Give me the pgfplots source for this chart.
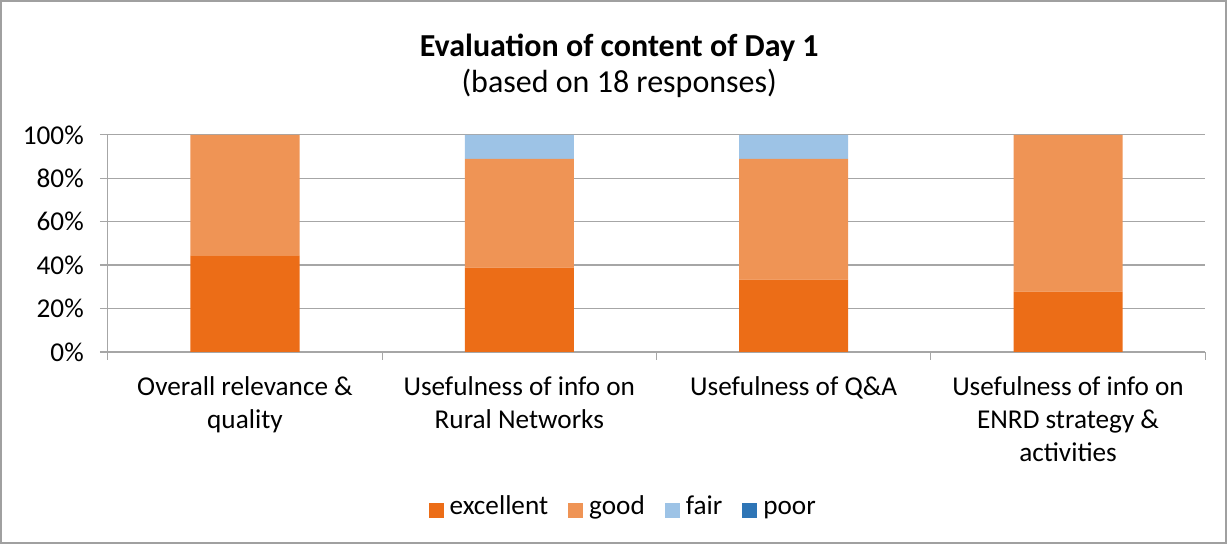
\documentclass[border=0pt]{standalone}
\usepackage{fontspec}
\setmainfont{Carlito}
\usepackage{pgfplots}
\pgfplotsset{compat=1.18}
\definecolor{cexc}{HTML}{EC6D17}
\definecolor{cgood}{HTML}{EF9455}
\definecolor{cfair}{HTML}{9DC3E6}
\definecolor{cpoor}{HTML}{2E75B6}
\definecolor{gridgray}{HTML}{A6A6A6}
\definecolor{framegray}{HTML}{A0A0A0}
\begin{document}
\begin{tikzpicture}
\begin{axis}[
  scale only axis, width=548.5pt, height=108.5pt,
  ybar stacked, bar width=54.5pt,
  xmin=-0.5, xmax=3.5, ymin=0, ymax=100,
  clip=false,
  axis lines*=left,
  axis line style={gridgray, line width=0.6pt},
  tick align=outside,
  major tick length=4pt, minor tick length=4pt,
  tick style={gridgray, line width=0.6pt},
  xtick={0,1,2,3},
  xticklabels={{Overall relevance \&\\quality},{Usefulness of info on\\Rural Networks},{Usefulness of Q\&A},{Usefulness of info on\\ENRD strategy \&\\activities}},
  major x tick style={draw=none},
  minor xtick={-0.5,0.5,1.5,2.5,3.5},
  ytick={0,20,...,100},
  yticklabel={\pgfmathprintnumber{\tick}\%},
  ymajorgrids,
  grid style={gridgray, line width=0.6pt},
  ticklabel style={font=\fontsize{13.6}{16.3}\selectfont},
  yticklabel style={xshift=-4.5pt},
  xticklabel style={align=center, yshift=-5pt},
  /pgf/number format/assume math mode=true,
  legend style={at={(rel axis cs:0.4715,-0.729)}, anchor=center, legend columns=4, draw=none, font=\fontsize{13.6}{16}\selectfont,
    nodes={text height=0.7em, text depth=0.22em, inner xsep=3pt},
    /tikz/every even column/.append style={column sep=7pt}},
  legend image code/.code={\fill[#1] (0pt,-3.75pt) rectangle (7.5pt,3.75pt);},
]
\addplot[fill=cexc, draw=none] coordinates {(0,44.44) (1,38.89) (2,33.33) (3,27.78)};
\addplot[fill=cgood, draw=none] coordinates {(0,55.56) (1,50.00) (2,55.56) (3,72.22)};
\addplot[fill=cfair, draw=none] coordinates {(0,0) (1,11.11) (2,11.11) (3,0)};
\addplot[fill=cpoor, draw=none] coordinates {(0,0) (1,0) (2,0) (3,0)};
\legend{excellent,good,fair,poor}
\node[font=\fontsize{16}{19}\selectfont\bfseries] at (rel axis cs:0.466,1.40) {Evaluation of content of Day 1};
\node[font=\fontsize{16}{19}\selectfont] at (rel axis cs:0.466,1.235) {(based on 18 responses)};
\draw[framegray, line width=0.8pt] (rel axis cs:-0.0975,-0.880) rectangle (rel axis cs:1.0191,1.6175);
\end{axis}
\end{tikzpicture}
\end{document}
